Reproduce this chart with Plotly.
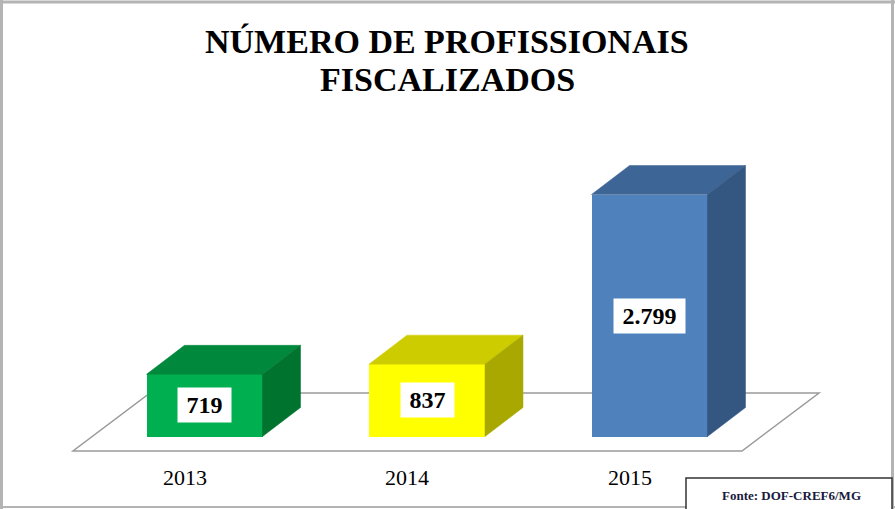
import plotly.graph_objects as go

# ---- data ----
years = ["2013", "2014", "2015"]
values = [719, 837, 2799]
front_colors = ["#00B050", "#FFFF00", "#4F81BD"]
top_colors = ["#00883D", "#CCCC00", "#3D6596"]
side_colors = ["#00732F", "#A8A800", "#345781"]
title_lines = ["NÚMERO DE PROFISSIONAIS", "FISCALIZADOS"]
source_text = "Fonte: DOF-CREF6/MG"

# ---- geometry (pixel-based layout constants) ----
W, H = 895, 509
X0PIX, XSTEP = 204.5, 222.5          # px of first category centre, px per category
Y0PIX = 436.5                         # px of value 0
YPX = 242.0 / 2799.0                  # px per value unit
BAR_W = 116 / XSTEP                   # bar width in category units
DX = 38 / XSTEP                       # depth offset x (category units)
DY = 29 / YPX                         # depth offset y (value units)

xr = [(0 - X0PIX) / XSTEP, (W - X0PIX) / XSTEP]
yr = [-(H - Y0PIX) / YPX, Y0PIX / YPX]

def yval(py):
    return (Y0PIX - py) / YPX

xs = list(range(len(years)))

fig = go.Figure()

# front faces
fig.add_trace(go.Bar(x=xs, y=values, width=BAR_W, marker=dict(color=front_colors, line=dict(width=0)),
                     hoverinfo="skip", showlegend=False))

# top and side faces
for i, v in enumerate(values):
    x0 = xs[i] - BAR_W / 2
    x1 = xs[i] + BAR_W / 2
    fig.add_trace(go.Scatter(x=[x0, x1, x1 + DX, x0 + DX, x0], y=[v, v, v + DY, v + DY, v],
                             mode="lines", fill="toself", fillcolor=top_colors[i],
                             line=dict(width=0.5, color=top_colors[i]), hoverinfo="skip", showlegend=False))
    fig.add_trace(go.Scatter(x=[x1, x1 + DX, x1 + DX, x1, x1], y=[0, DY, v + DY, v, 0],
                             mode="lines", fill="toself", fillcolor=side_colors[i],
                             line=dict(width=0.5, color=side_colors[i]), hoverinfo="skip", showlegend=False))

# floor
fl = xs[0] - (204.5 - 73) / XSTEP
fr = xs[-1] + (742 - 649.5) / XSTEP
fdx = 77 / XSTEP
fy0 = yval(451)
fy1 = yval(393)
floor_path = (f"M {fl},{fy0} L {fr},{fy0} L {fr + fdx},{fy1} L {fl + fdx},{fy1} Z")
shapes = [dict(type="path", path=floor_path, xref="x", yref="y", layer="below",
               fillcolor="white", line=dict(color="#9a9a9a", width=1.5))]

# page border
def px(x):
    return x / W

def py(y):
    return 1 - y / H

border = "#b4b4b4"
shapes += [
    dict(type="line", xref="paper", yref="paper", x0=0, x1=1, y0=py(2), y1=py(2), line=dict(color=border, width=3)),
    dict(type="line", xref="paper", yref="paper", x0=px(1.5), x1=px(1.5), y0=0, y1=1, line=dict(color=border, width=3)),
    dict(type="line", xref="paper", yref="paper", x0=px(892.5), x1=px(892.5), y0=0, y1=1, line=dict(color=border, width=3)),
    dict(type="line", xref="paper", yref="paper", x0=0, x1=1, y0=py(507), y1=py(507), line=dict(color=border, width=2)),
    # source box
    dict(type="rect", xref="paper", yref="paper", x0=px(686), x1=px(892), y0=py(478), y1=py(515),
         fillcolor="white", line=dict(color="#333333", width=1.5)),
]

annotations = []
# titles
annotations.append(dict(text=f"<b>{title_lines[0]}</b>", xref="paper", yref="paper", x=px(447), y=py(41),
                        xanchor="center", yanchor="middle", showarrow=False,
                        font=dict(family="Liberation Serif", size=34, color="black")))
annotations.append(dict(text=f"<b>{title_lines[1]}</b>", xref="paper", yref="paper", x=px(447), y=py(79),
                        xanchor="center", yanchor="middle", showarrow=False,
                        font=dict(family="Liberation Serif", size=34, color="black")))
# value labels
for i, v in enumerate(values):
    t = f"{v:,}".replace(",", ".")
    w = sum(6 if c == "." else 12 for c in t) + 17
    annotations.append(dict(text=f"<b>{t}</b>", x=xs[i], y=v / 2, xref="x", yref="y", showarrow=False,
                            xanchor="center", yanchor="middle",
                            bgcolor="white", width=w, height=34, borderpad=0,
                            font=dict(family="Liberation Serif", size=24, color="black")))
# year labels
for i, yr_ in enumerate(years):
    annotations.append(dict(text=yr_, x=xs[i], y=yval(477), xref="x", yref="y", showarrow=False, xshift=-20,
                            xanchor="center", yanchor="middle",
                            font=dict(family="Liberation Serif", size=22, color="black")))
# source
annotations.append(dict(text=f"<b>{source_text}</b>", xref="paper", yref="paper", x=px(791), y=py(495),
                        xanchor="center", yanchor="middle", showarrow=False,
                        font=dict(family="Liberation Serif", size=13, color="#1a1a40")))

fig.update_layout(
    width=W, height=H, margin=dict(l=0, r=0, t=0, b=0),
    paper_bgcolor="white", plot_bgcolor="white",
    xaxis=dict(range=xr, visible=False, fixedrange=True),
    yaxis=dict(range=yr, visible=False, fixedrange=True),
    shapes=shapes, annotations=annotations, showlegend=False, bargap=0,
)

fig.write_html("out.html", config={"displayModeBar": False},
               post_script="document.body.style.margin='0';")
